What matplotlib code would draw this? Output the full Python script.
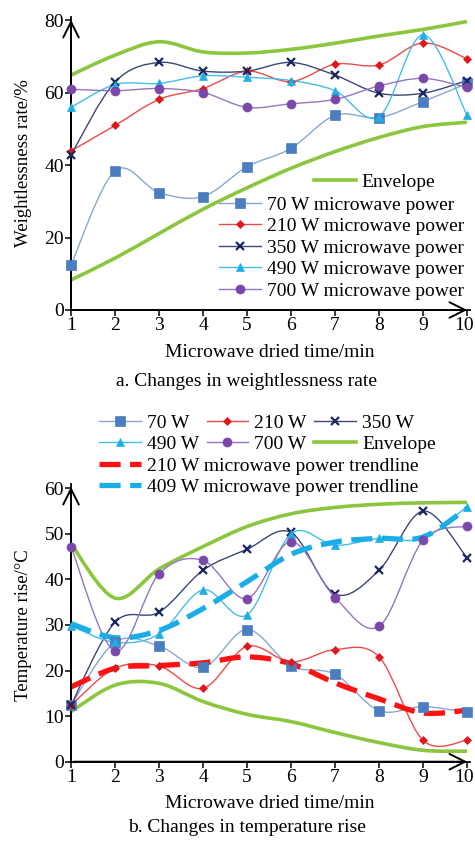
import numpy as np
import matplotlib
matplotlib.use("Agg")
import matplotlib.pyplot as plt
import matplotlib.transforms as mtransforms
from matplotlib.path import Path
from matplotlib.patches import PathPatch
from matplotlib.lines import Line2D

plt.rcParams['font.family'] = ['Liberation Serif', 'DejaVu Serif']
FS = 14
plt.rcParams['font.size'] = FS

# ---- data ----
time_min = [1, 2, 3, 4, 5, 6, 7, 8, 9, 10]
powers = ['70 W', '210 W', '350 W', '490 W', '700 W']

# a. weightlessness rate (%)
wl_70 = [12.4, 38.4, 32.4, 31.3, 39.5, 44.6, 53.7, 53.1, 57.5, 62.5]
wl_210 = [43.9, 50.9, 58.1, 61.1, 65.9, 63.0, 67.8, 67.6, 73.7, 69.3]
wl_350 = [42.8, 62.9, 68.3, 65.9, 65.9, 68.3, 64.8, 59.8, 59.8, 63.3]
wl_490 = [55.9, 62.2, 62.5, 64.6, 64.2, 63.3, 60.5, 53.3, 75.9, 53.8]
wl_700 = [60.9, 60.5, 61.1, 60.0, 55.9, 56.9, 58.1, 61.8, 63.9, 61.4]
wl_env_hi = [64.8, 70.3, 74.0, 71.2, 70.9, 71.9, 73.6, 75.6, 77.4, 79.6]
wl_env_lo = [8.3, 14.3, 21.1, 27.8, 33.7, 39.1, 43.7, 47.6, 50.6, 51.8]

# b. temperature rise (degC)
tr_70 = [12.4, 26.2, 25.4, 20.7, 29.0, 21.0, 19.2, 11.2, 12.1, 10.8]
tr_210 = [12.4, 20.5, 21.0, 16.1, 25.3, 21.9, 24.6, 23.0, 4.7, 4.7]
tr_350 = [12.4, 30.6, 32.8, 42.0, 46.6, 50.3, 36.8, 42.0, 55.0, 44.8]
tr_490 = [29.8, 26.2, 28.0, 37.7, 32.2, 50.0, 47.5, 49.0, 49.0, 56.0]
tr_700 = [47.2, 24.3, 41.2, 44.2, 35.8, 48.3, 36.0, 29.7, 48.6, 51.7]
tr_env_hi = [47.8, 35.9, 42.3, 47.2, 51.6, 54.4, 55.8, 56.5, 56.8, 56.9]
tr_env_lo = [11.0, 16.8, 17.2, 13.2, 10.4, 8.8, 6.4, 4.2, 2.5, 2.3]
trend_210 = [16.4, 20.5, 21.1, 21.7, 23.0, 21.5, 17.3, 13.8, 10.7, 11.3]
trend_409 = [30.3, 27.2, 28.8, 33.6, 39.5, 45.5, 48.2, 49.0, 49.3, 55.6]

# ---- styles ----
line_cols = ['#8AA6D4', '#EE4A4A', '#3A4777', '#45BDEB', '#9475BE']
mark_cols = ['#4A7EC0', '#E0181E', '#1B2660', '#1FAFE6', '#7A48A8']
markers = ['s', 'D', 'x', '^', 'o']
msizes = [6.5, 4, 6, 6, 6.5]
env_col = '#8CC63F'
trend_ls = (0, (4, 1.8))


def smooth_path(x, y):
    # Excel-like smoothed line as cubic Bezier segments
    x = np.asarray(x, float)
    y = np.asarray(y, float)
    px = np.r_[x[0], x, x[-1]]
    py = np.r_[y[0], y, y[-1]]
    verts = [(x[0], y[0])]
    codes = [Path.MOVETO]
    for i in range(len(x) - 1):
        c1 = (x[i] + (px[i + 2] - px[i]) / 6, y[i] + (py[i + 2] - py[i]) / 6)
        c2 = (x[i + 1] - (px[i + 3] - px[i + 1]) / 6, y[i + 1] - (py[i + 3] - py[i + 1]) / 6)
        verts += [c1, c2, (x[i + 1], y[i + 1])]
        codes += [Path.CURVE4] * 3
    return Path(verts, codes)


def draw_curve(ax, x, y, color, lw, ls='-'):
    patch = PathPatch(smooth_path(x, y), fill=False, edgecolor=color, lw=lw,
                      linestyle=ls, capstyle='butt', joinstyle='round',
                      transform=ax.transData, clip_on=False)
    ax.add_patch(patch)


def style_axes(ax, ymax, ytop, ystep):
    ax.set_xlim(1, 10.068)
    ax.set_ylim(0, ytop)
    ax.set_xticks(time_min)
    ax.set_yticks(np.arange(0, ymax + 1, ystep))
    for s in ['top', 'right']:
        ax.spines[s].set_visible(False)
    for s in ['left', 'bottom']:
        ax.spines[s].set_linewidth(1.3)
    ax.tick_params(width=1.1, length=4, labelsize=FS, pad=1)
    # the last x label sits at the picture edge; nudge it inside
    last = ax.get_xticklabels()[-1]
    last.set_transform(last.get_transform() +
                       mtransforms.ScaledTranslation(-3 / 100, 0, fig.dpi_scale_trans))
    arrow = dict(arrowstyle='->,head_length=0.8,head_width=0.4', lw=1.4, color='black')
    ax.annotate('', xy=(1.0, 0), xytext=(0, 0), xycoords='axes fraction', arrowprops=arrow)
    ax.annotate('', xy=(0, 1.0), xytext=(0, 0), xycoords='axes fraction', arrowprops=arrow)


def plot_series(ax, series):
    for i, ys in enumerate(series):
        draw_curve(ax, time_min, ys, line_cols[i], 1.0)
        ax.plot(time_min, ys, ls='none', marker=markers[i], ms=msizes[i],
                color=mark_cols[i], mew=1.6 if markers[i] == 'x' else 0.5,
                clip_on=False, zorder=3)


W, H = 475, 842
fig = plt.figure(figsize=(4.75, 8.42), dpi=100)
leg_kw = dict(loc='upper left', frameon=False, borderpad=0, borderaxespad=0,
              handlelength=2.15, handletextpad=0.3, labelspacing=0.2, fontsize=FS)

# ---------- a ----------
ax1 = fig.add_axes([71 / W, 1 - 310 / H, 399 / W, 293 / H])
style_axes(ax1, 80, 80.83, 20)
draw_curve(ax1, time_min, wl_env_hi, env_col, 2.6)
draw_curve(ax1, time_min, wl_env_lo, env_col, 2.6)
plot_series(ax1, [wl_70, wl_210, wl_350, wl_490, wl_700])

env_h = Line2D([], [], color=env_col, lw=2.6)
ser_h = [Line2D([], [], color=line_cols[i], lw=1.0, marker=markers[i], ms=msizes[i],
                mfc=mark_cols[i], mec=mark_cols[i], mew=1.6 if markers[i] == 'x' else 0.5)
         for i in range(5)]
fig.legend([env_h], ['Envelope'], bbox_to_anchor=(314 / W, 1 - 173 / H), **leg_kw)
fig.legend(ser_h, [p + ' microwave power' for p in powers],
           bbox_to_anchor=(219 / W, 1 - 196 / H), **leg_kw)

fig.text(24 / W, 1 - 163 / H, 'Weightlessness rate/%', rotation=90, ha='center', va='center', fontsize=13.5)
fig.text(270 / W, 1 - 352 / H, 'Microwave dried time/min', ha='center', va='center', fontsize=FS)
fig.text(247 / W, 1 - 382 / H, 'a. Changes in weightlessness rate', ha='center', va='center', fontsize=FS)

# ---------- b ----------
ax2 = fig.add_axes([71 / W, 1 - 761.7 / H, 399 / W, (761.7 - 484) / H])
style_axes(ax2, 60, 60.94, 10)
draw_curve(ax2, time_min, tr_env_hi, env_col, 2.6)
draw_curve(ax2, time_min, tr_env_lo, env_col, 2.6)
plot_series(ax2, [tr_70, tr_210, tr_350, tr_490, tr_700])
draw_curve(ax2, time_min, trend_210, '#FF1111', 3.8, ls=trend_ls)
draw_curve(ax2, time_min, trend_409, '#1AAEE8', 3.8, ls=trend_ls)

h6 = [ser_h[0], ser_h[3], ser_h[1], ser_h[4], ser_h[2], env_h]
l6 = [powers[0], powers[3], powers[1], powers[4], powers[2], 'Envelope']
fig.legend(h6, l6, ncol=3, columnspacing=0.4,
           bbox_to_anchor=(99 / W, 1 - 414 / H), **leg_kw)
tr_h = [Line2D([], [], color='#FF1111', lw=3.8, ls=trend_ls),
        Line2D([], [], color='#1AAEE8', lw=3.8, ls=trend_ls)]
fig.legend(tr_h, ['210 W microwave power trendline', '409 W microwave power trendline'],
           bbox_to_anchor=(99 / W, 1 - 457 / H), **leg_kw)

fig.text(24 / W, 1 - 625 / H, 'Temperature rise/°C', rotation=90, ha='center', va='center', fontsize=13.5)
fig.text(270 / W, 1 - 803 / H, 'Microwave dried time/min', ha='center', va='center', fontsize=FS)
fig.text(247 / W, 1 - 828 / H, 'b. Changes in temperature rise', ha='center', va='center', fontsize=FS)

fig.savefig('out.png', dpi=100)
